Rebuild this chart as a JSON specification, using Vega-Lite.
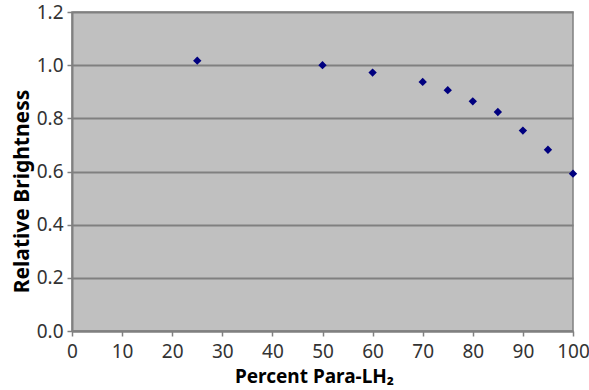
{
  "$schema": "https://vega.github.io/schema/vega-lite/v6.json",
  "autosize": {"type": "none"},
  "width": 501,
  "height": 319,
  "padding": {"left": 72, "top": 12, "right": 16, "bottom": 59},
  "background": "white",
  "view": {"fill": "#C0C0C0", "stroke": "#808080", "strokeWidth": 1.5},
  "data": {
    "values": [
      {"percent": 25, "brightness": 1.017},
      {"percent": 50, "brightness": 1.0},
      {"percent": 60, "brightness": 0.972},
      {"percent": 70, "brightness": 0.937},
      {"percent": 75, "brightness": 0.906},
      {"percent": 80, "brightness": 0.864},
      {"percent": 85, "brightness": 0.824},
      {"percent": 90, "brightness": 0.754},
      {"percent": 95, "brightness": 0.682},
      {"percent": 100, "brightness": 0.592}
    ]
  },
  "mark": {"type": "point", "shape": "diamond", "filled": true, "color": "#00007F", "size": 70, "opacity": 1},
  "encoding": {
    "x": {
      "field": "percent",
      "type": "quantitative",
      "scale": {"domain": [0, 100], "nice": false},
      "axis": {
        "values": [0, 10, 20, 30, 40, 50, 60, 70, 80, 90, 100],
        "grid": false,
        "labelFlush": false,
        "labelOverlap": false,
        "domainColor": "#808080",
        "domainWidth": 2,
        "tickColor": "#808080",
        "tickSize": 5,
        "tickWidth": 1.5,
        "labelFont": "Noto Sans",
        "labelFontSize": 19,
        "labelColor": "#333333",
        "labelPadding": 6,
        "title": "Percent Para-LH₂",
        "titleFont": "Noto Sans",
        "titleFontSize": 19,
        "titleFontWeight": "bold",
        "titleColor": "black",
        "titlePadding": 6,
        "titleX": 242
      }
    },
    "y": {
      "field": "brightness",
      "type": "quantitative",
      "scale": {"domain": [0, 1.2], "nice": false},
      "axis": {
        "values": [0, 0.2, 0.4, 0.6, 0.8, 1.0, 1.2],
        "format": ".1f",
        "grid": true,
        "labelFlush": false,
        "labelOverlap": false,
        "gridColor": "#808080",
        "gridWidth": 2,
        "gridOpacity": 1,
        "domainColor": "#808080",
        "domainWidth": 2,
        "tickColor": "#808080",
        "tickSize": 5,
        "tickWidth": 1.5,
        "labelFont": "Noto Sans",
        "labelFontSize": 19,
        "labelColor": "#333333",
        "labelPadding": 4,
        "title": "Relative Brightness",
        "titleFont": "Noto Sans",
        "titleFontSize": 21,
        "titleFontWeight": "bold",
        "titleColor": "black",
        "titlePadding": 4,
        "titleY": 179
      }
    }
  }
}
